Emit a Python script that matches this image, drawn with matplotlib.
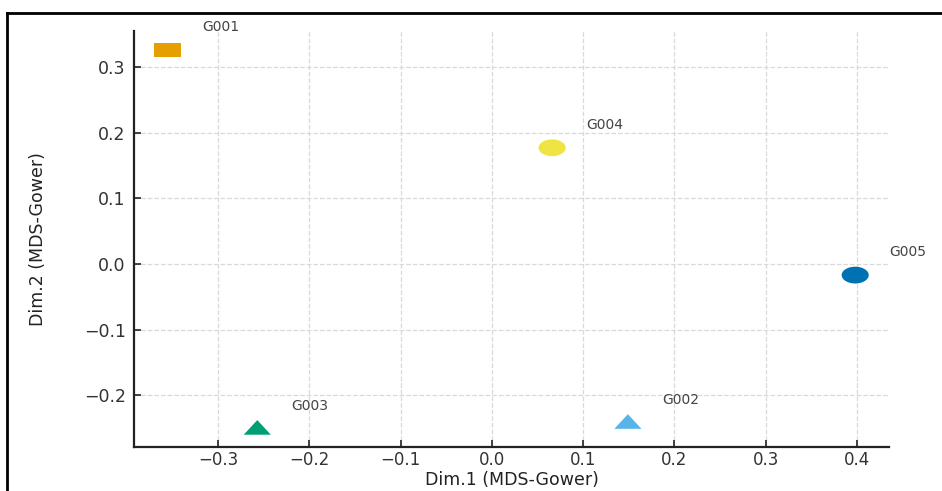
#!/usr/bin/env python3
# mds_gower.py
import numpy as np
import matplotlib
matplotlib.use("Agg")
import matplotlib.pyplot as plt
from matplotlib.path import Path
from matplotlib.lines import Line2D

plt.rcParams.update({
    "font.family": "DejaVu Sans",
    "font.size": 12,
    "axes.labelsize": 12.5,
    "xtick.labelsize": 12,
    "ytick.labelsize": 12.5,
})

# ---------- Data ----------
groups = ["G001", "G002", "G003", "G004", "G005"]
dim1 = [-0.355, 0.149, -0.257, 0.066, 0.398]
dim2 = [0.326, -0.243, -0.252, 0.177, -0.017]

colors = ["#E69F00", "#56B4E9", "#009E73", "#F0E442", "#0072B2"]
shapes = ["square", "triangle", "triangle", "circle", "circle"]

xticks = [-0.3, -0.2, -0.1, 0.0, 0.1, 0.2, 0.3, 0.4]
yticks = [-0.2, -0.1, 0.0, 0.1, 0.2, 0.3]

# ---------- Markers (wide, like the stretched screenshot) ----------
t = np.linspace(0, 2 * np.pi, 60)
markers = {
    "circle": Path(np.column_stack([1.0 * np.cos(t), 0.62 * np.sin(t)]), closed=True),
    "square": Path([(-1, -0.52), (1, -0.52), (1, 0.52), (-1, 0.52), (-1, -0.52)], closed=True),
    "triangle": Path([(-1, -0.4), (1, -0.4), (0, 0.68), (-1, -0.4)], closed=True),
}

# ---------- Plot ----------
fig = plt.figure(figsize=(9.42, 4.91), dpi=100)
ax = fig.add_axes([0.1423, 0.0896, 0.8014, 0.8473])

for g, x, y, c, m in zip(groups, dim1, dim2, colors, shapes):
    ax.scatter(x, y, s=19.5 ** 2, marker=markers[m], color=c, edgecolors="none", zorder=3)
    ax.annotate(g, (x, y), xytext=(38, 16.5), textcoords="offset points",
                ha="center", va="center", fontsize=10, color="#444444")

# ---------- Axes ----------
ax.set_xlim(-0.392, 0.435)
ax.set_ylim(-0.279, 0.355)
ax.set_xticks(xticks)
ax.set_yticks(yticks)
ax.set_xticklabels([f"{v:.1f}".replace("-", "\u2212") for v in xticks])
ax.set_yticklabels([f"{v:.1f}".replace("-", "\u2212") for v in yticks])
ax.set_xlabel("Dim.1 (MDS-Gower)", color="#222222", va="center")
ax.set_ylabel("Dim.2 (MDS-Gower)", color="#222222", va="center")
ax.xaxis.set_label_coords(0.5, -0.08)
ax.yaxis.set_label_coords(-0.127, 0.5)

ax.grid(True, linestyle="--", color="#d9d9d9", linewidth=0.9)
ax.set_axisbelow(True)
for side in ["top", "right"]:
    ax.spines[side].set_visible(False)
for side in ["left", "bottom"]:
    ax.spines[side].set_linewidth(1.6)
    ax.spines[side].set_color("#222222")
ax.tick_params(direction="in", length=5, width=1.2, color="#222222",
               labelcolor="#333333")
ax.tick_params(axis="x", pad=3)
ax.tick_params(axis="y", pad=6)

# ---------- Screenshot frame (top and left edges) ----------
fig.add_artist(Line2D([0.0079, 1.0], [1 - 12.5 / 491, 1 - 12.5 / 491], color="black", linewidth=2))
fig.add_artist(Line2D([0.0079, 0.0079], [0.0, 1 - 12.5 / 491], color="black", linewidth=2))

fig.savefig("out.png", dpi=100)
print("[OK] Wrote: out.png")
